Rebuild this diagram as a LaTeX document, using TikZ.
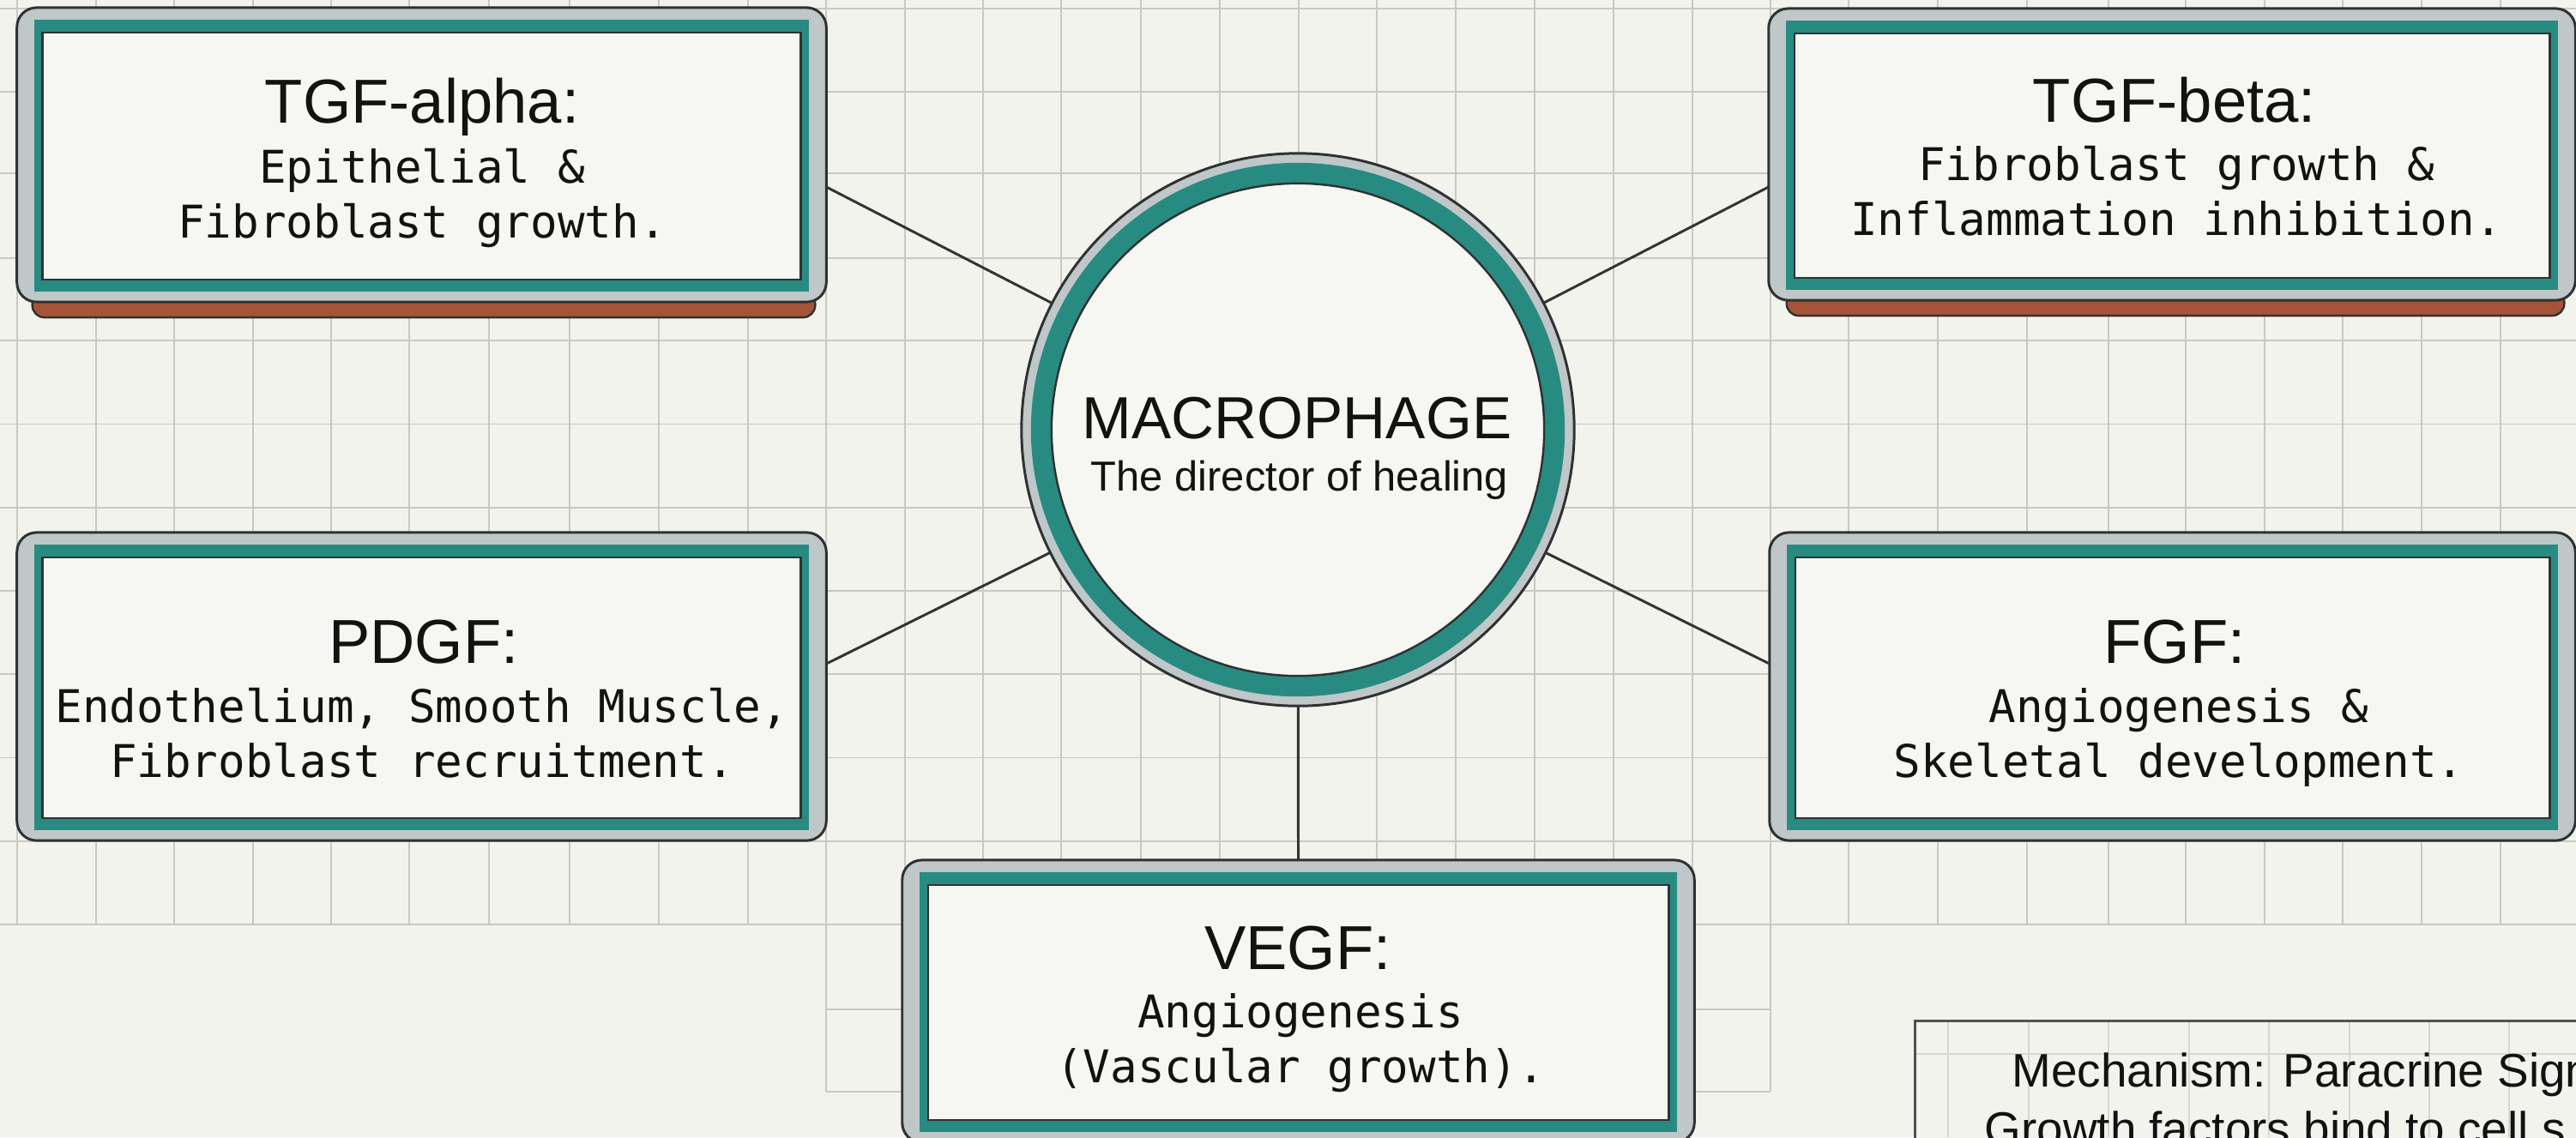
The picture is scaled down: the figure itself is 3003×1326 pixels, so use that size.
\documentclass[tikz,border=0pt]{standalone}
\usepackage{fontspec}
\setmainfont{Liberation Sans}
\newfontfamily\monofont{DejaVu Sans Mono}[WordSpace={1,0,0}]
\usetikzlibrary{calc,backgrounds}
\definecolor{bgc}{RGB}{243,243,238}
\definecolor{gridc}{RGB}{200,200,196}
\definecolor{gridfaintc}{RGB}{214,214,210}
\definecolor{framec}{RGB}{192,199,200}
\definecolor{tealc}{RGB}{40,139,130}
\definecolor{innerc}{RGB}{246,246,242}
\definecolor{edgec}{RGB}{48,50,50}
\definecolor{rustc}{RGB}{166,84,56}
\definecolor{inkc}{RGB}{18,18,18}
\definecolor{linec}{RGB}{52,52,52}
\newcommand\gflayers[1]{%
  \fill[tealc] ($(#1.north west)+(20,14)$) rectangle ($(#1.south east)+(-20,-12)$);
  \filldraw[innerbox] ($(#1.north west)+(30,29)$) rectangle ($(#1.south east)+(-30,-26)$);
}
\newcommand\monobody{\monofont\fontsize{14.95pt}{18.2pt}\selectfont}
\begin{document}
\begin{tikzpicture}[x=0.01cm,y=-0.01cm,
  gridline/.style={draw=gridc, line width=0.55pt},
  gridfaint/.style={draw=gridfaintc, line width=0.5pt},
  outerbox/.style={draw=edgec, line width=0.85pt, fill=framec, rounded corners=6.5pt, inner sep=0pt, outer sep=0pt, rectangle},
  innerbox/.style={draw=edgec, line width=0.7pt, fill=innerc},
  redbar/.style={draw=edgec, line width=0.7pt, fill=rustc, rounded corners=4pt},
  macring/.style={circle, draw=edgec, line width=0.85pt, fill=framec, inner sep=0pt, outer sep=0pt},
  conn/.style={draw=linec, line width=0.85pt},
  titletext/.style={font=\fontsize{20.6pt}{24pt}\selectfont, text=inkc, anchor=base, inner sep=0pt},
  bodytext/.style={font=\monobody, text=inkc, anchor=base, inner sep=0pt, text width=9.2cm, align=flush center},
  mactitle/.style={font=\fontsize{19.7pt}{23pt}\selectfont, text=inkc, anchor=base, inner sep=0pt},
  macsub/.style={font=\fontsize{13.9pt}{17pt}\selectfont, text=inkc, anchor=base, inner sep=0pt},
  mechbox/.style={draw=edgec!85, line width=0.85pt, fill=bgc, inner sep=0pt, outer sep=0pt, rectangle},
  mechtext/.style={font=\fontsize{15.6pt}{19pt}\selectfont, text=inkc, anchor=base west, inner sep=0pt}
]
\useasboundingbox (0,0) rectangle (3003,1326);
\begin{scope}[on background layer]
  \fill[bgc] (0,0) rectangle (3003,1326);
  \foreach \gx in {20,112,203,295,386,477,570,664,768,872,963,1055,1146,1237,1330,1422,1514,1605,1697,1789,1881,1973,2064,2155,2259,2363,2458,2548,2640,2731,2823,2915}
    \draw[gridline] (\gx,0) -- (\gx,1078);
  \foreach \gy in {10,107,202,301,397,494.5,592,689,786,883.5,981,1078}
    \draw[gridline] (0,\gy) -- (3003,\gy);
  \foreach \gx in {963,1055,1146,1237,1330,1422,1514,1605,1697,1789,1881,1973,2064}
    \draw[gridline] (\gx,1078) -- (\gx,1273);
  \foreach \gy in {1177,1273}
    \draw[gridline] (963,\gy) -- (2064,\gy);
\end{scope}

% bottom-right mechanism panel
\node[mechbox, anchor=north west, minimum width=8.5cm, minimum height=2cm] (mech) at (2232,1190) {};
\foreach \gx in {2271,2365,2458,2552,2645,2739,2832,2925}
  \draw[gridfaint] (\gx,1192) -- (\gx,1326);
\draw[gridfaint] (2234,1229) -- (3003,1229);
\node[mechtext] (mech1) at (2345,1267) {Mechanism: Paracrine Sign};
\node[mechtext] (mech2) at (2313,1335) {Growth factors bind to cell s};

% growth factor boxes
\node[outerbox, minimum width=9.43cm, minimum height=3.43cm] (tga) at (491.5,180.5) {};
\gflayers{tga}
\node[outerbox, minimum width=9.40cm, minimum height=3.40cm] (tgb) at (2532,180) {};
\gflayers{tgb}
\node[outerbox, minimum width=9.43cm, minimum height=3.59cm] (pdgf) at (491.5,800.5) {};
\gflayers{pdgf}
\node[outerbox, minimum width=9.39cm, minimum height=3.59cm] (fgf) at (2532.5,800.5) {};
\gflayers{fgf}
\node[outerbox, minimum width=9.23cm, minimum height=3.29cm] (vegf) at (1513.5,1167.5) {};
\gflayers{vegf}

\begin{scope}[on background layer]
  \filldraw[redbar] ($(tga.south west)+(18,-12)$) rectangle ($(tga.south east)+(-13,18)$);
  \filldraw[redbar] ($(tgb.south west)+(21,-12)$) rectangle ($(tgb.south east)+(-13,18)$);
\end{scope}

% box texts
\node[titletext] (tga-t) at (492,143) {TGF-alpha:};
\node[bodytext] (tga-b) at (492,213) {Epithelial \&\\Fibroblast growth.};
\node[titletext] (tgb-t) at (2535,142) {TGF-beta:};
\node[bodytext] (tgb-b) at (2537,210) {Fibroblast growth \&\\Inflammation inhibition.};
\node[titletext] (pdgf-t) at (494,773) {PDGF:};
\node[bodytext] (pdgf-b) at (492,842) {Endothelium, Smooth Muscle,\\Fibroblast recruitment.};
\node[titletext] (fgf-t) at (2535,773) {FGF:};
\node[bodytext] (fgf-b) at (2540,842) {Angiogenesis \&\\Skeletal development.};
\node[titletext] (vegf-t) at (1513,1130) {VEGF:};
\node[bodytext] (vegf-b) at (1516,1198) {Angiogenesis\\(Vascular growth).};

% macrophage
\node[macring, minimum size=6.44cm] (mac) at (1513,501) {};
\fill[tealc] (mac.center) circle (3.11cm);
\filldraw[innerbox] (mac.center) circle (2.87cm);
\node[mactitle] (mac-t) at (1512,511) {MACROPHAGE};
\node[macsub] (mac-s) at (1515,572) {The director of healing};

% connectors
\draw[conn] (mac) -- ($(tga.east)+(0,37.5)$);
\draw[conn] (mac) -- ($(tgb.west)+(0,38)$);
\draw[conn] (mac) -- ($(pdgf.east)+(0,-26.5)$);
\draw[conn] (mac) -- ($(fgf.west)+(0,-26.5)$);
\draw[conn] (mac) -- (vegf.north);
\end{tikzpicture}
\end{document}
